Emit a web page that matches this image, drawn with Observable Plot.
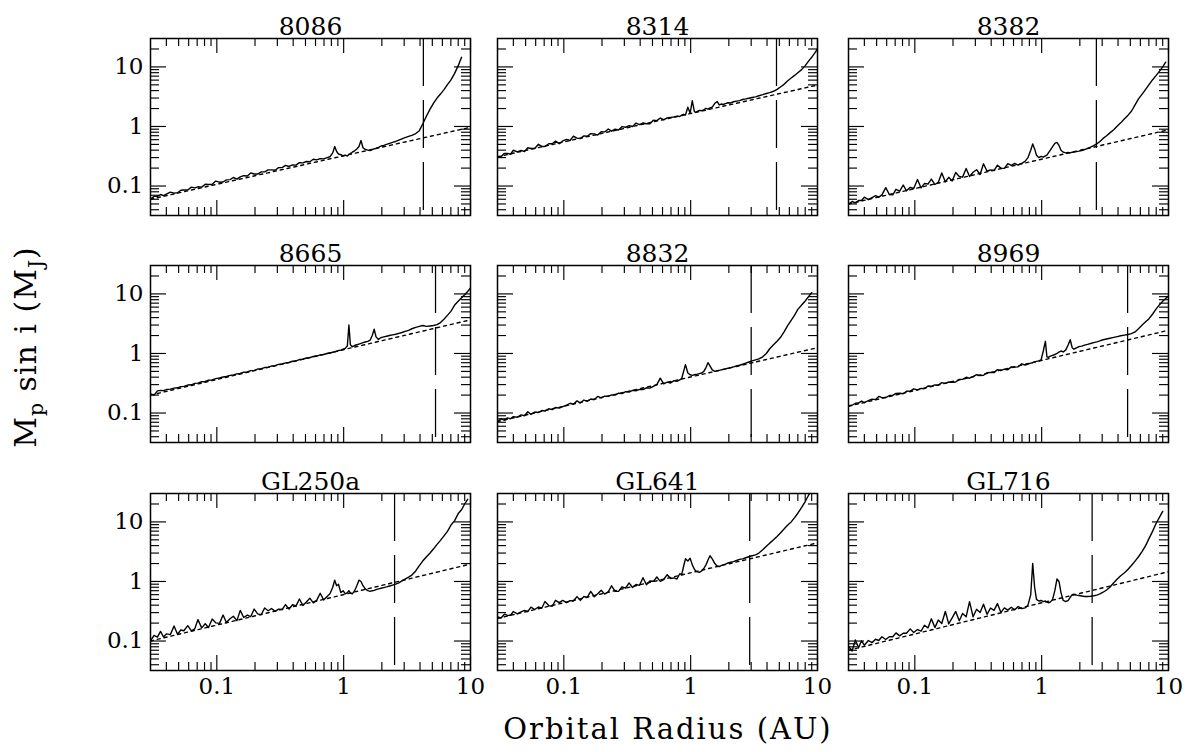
<!DOCTYPE html>
<html><head><meta charset="utf-8">
<script src="https://cdn.jsdelivr.net/npm/d3@7"></script>
<script src="https://cdn.jsdelivr.net/npm/@observablehq/plot@0.6"></script>
<style>
body{margin:0;background:#fff;}
#chart{position:relative;width:1190px;height:752px;overflow:hidden;font-family:"DejaVu Serif",serif;color:#000;}
.ttl{position:absolute;white-space:nowrap;color:#000;font-family:"DejaVu Serif",serif;}
.ttl sub{font-size:0.68em;}
</style></head><body><div id="chart"></div>
<script>
const names = ["8086","8314","8382","8665","8832","8969","GL250a","GL641","GL716"];

const radius = [0.030,0.032,0.034,0.036,0.038,0.040,0.043,0.046,0.049,0.052,
 0.055,0.059,0.063,0.067,0.071,0.076,0.081,0.086,0.092,0.098,
 0.105,0.112,0.119,0.127,0.135,0.144,0.153,0.163,0.174,0.185,
 0.197,0.210,0.224,0.238,0.254,0.270,0.288,0.307,0.327,0.348,
 0.371,0.395,0.421,0.448,0.477,0.508,0.541,0.576,0.613,0.653,
 0.695,0.74,0.78,0.82,0.85,0.88,0.91,0.95,0.99,1.03,
 1.07,1.10,1.13,1.17,1.22,1.27,1.32,1.37,1.42,1.48,
 1.55,1.62,1.68,1.74,1.80,1.88,1.97,2.07,2.18,2.30,
 2.43,2.57,2.72,2.88,3.05,3.25,3.45,3.70,3.95,4.20,
 4.50,4.80,5.10,5.45,5.80,6.20,6.60,7.00,7.50,8.00,
 8.50,9.00,9.50,10.0];

const m8086 = [0.060,0.067,0.067,0.072,0.069,0.073,0.079,0.076,0.077,0.085,
 0.086,0.086,0.096,0.093,0.097,0.096,0.107,0.106,0.107,0.121,
 0.116,0.117,0.127,0.128,0.139,0.131,0.142,0.149,0.147,0.166,
 0.159,0.159,0.173,0.173,0.187,0.187,0.184,0.204,0.204,0.222,
 0.213,0.226,0.224,0.247,0.245,0.258,0.256,0.282,0.275,0.289,
 0.286,0.300,0.310,0.360,0.460,0.380,0.345,0.335,0.322,0.330,
 0.318,0.340,0.350,0.370,0.390,0.420,0.460,0.580,0.440,0.410,
 0.400,0.395,0.410,0.420,0.430,0.445,0.470,0.480,0.500,0.520,
 0.540,0.560,0.590,0.620,0.650,0.680,0.710,0.760,0.850,1.10,
 1.50,1.95,2.45,3.00,3.50,4.20,5.10,6.00,7.80,10.5,
 14.5,null,null,null];

const m8314 = [0.310,0.310,0.354,0.353,0.342,0.399,0.374,0.397,0.380,0.439,
 0.426,0.428,0.502,0.462,0.461,0.513,0.513,0.567,0.514,0.571,
 0.606,0.582,0.689,0.637,0.626,0.695,0.686,0.759,0.750,0.718,
 0.819,0.810,0.907,0.834,0.900,0.873,0.996,0.970,1.029,1.000,
 1.139,1.078,1.145,1.112,1.111,1.271,1.254,1.388,1.291,1.393,
 1.420,1.44,1.49,1.47,1.55,1.60,1.56,2.10,1.68,2.70,
 1.78,1.72,1.80,1.86,1.84,1.90,2.02,1.96,2.05,2.12,
 2.45,2.62,2.30,2.38,2.34,2.42,2.50,2.48,2.60,2.66,
 2.72,2.84,2.90,2.98,3.06,3.14,3.28,3.42,3.58,3.70,
 3.90,4.20,4.60,5.10,5.80,6.50,7.20,8.00,9.00,10.5,
 12.5,14.5,17.0,20.0];

const m8382 = [0.050,0.055,0.052,0.057,0.057,0.065,0.059,0.064,0.069,0.065,
 0.071,0.094,0.072,0.071,0.088,0.082,0.104,0.083,0.095,0.091,
 0.129,0.093,0.110,0.108,0.131,0.106,0.115,0.166,0.118,0.140,
 0.121,0.169,0.145,0.141,0.197,0.145,0.170,0.188,0.156,0.236,
 0.177,0.187,0.182,0.224,0.200,0.198,0.237,0.223,0.239,0.225,
 0.240,0.260,0.300,0.400,0.510,0.420,0.330,0.300,0.315,0.305,
 0.320,0.330,0.360,0.400,0.460,0.520,0.540,0.480,0.400,0.370,
 0.360,0.365,0.360,0.370,0.372,0.378,0.385,0.395,0.410,0.430,
 0.450,0.475,0.510,0.560,0.630,0.700,0.780,0.880,1.02,1.15,
 1.35,1.55,1.80,2.30,2.90,3.50,4.20,5.00,6.10,7.20,
 8.50,10.0,12.0,null];

const m8665 = [0.210,0.200,0.235,0.240,0.238,0.248,0.252,0.262,0.265,0.278,
 0.280,0.295,0.298,0.315,0.318,0.335,0.338,0.355,0.360,0.378,
 0.390,0.402,0.410,0.428,0.435,0.455,0.462,0.485,0.490,0.515,
 0.520,0.548,0.555,0.580,0.590,0.615,0.625,0.655,0.665,0.695,
 0.705,0.740,0.750,0.790,0.800,0.840,0.850,0.890,0.905,0.945,
 0.960,1.00,1.02,1.05,1.07,1.09,1.12,1.14,1.18,1.22,
 1.35,3.00,1.40,1.30,1.36,1.40,1.44,1.48,1.52,1.56,
 1.60,1.68,2.00,2.55,1.90,1.72,1.85,1.90,1.95,2.00,
 2.05,2.10,2.18,2.25,2.35,2.45,2.60,2.75,2.85,2.95,
 2.85,2.90,2.95,3.05,3.30,3.80,4.40,5.10,6.50,7.50,
 8.60,9.70,11.0,12.6];

const m8832 = [0.072,0.080,0.076,0.083,0.080,0.087,0.085,0.093,0.090,0.105,
 0.095,0.104,0.102,0.110,0.108,0.118,0.114,0.124,0.121,0.128,
 0.135,0.146,0.140,0.160,0.147,0.165,0.158,0.172,0.168,0.190,
 0.180,0.192,0.190,0.202,0.200,0.215,0.212,0.228,0.225,0.240,
 0.236,0.250,0.248,0.265,0.262,0.280,0.300,0.385,0.310,0.330,
 0.320,0.350,0.340,0.360,0.380,0.500,0.650,0.470,0.440,0.430,
 0.440,0.445,0.450,0.460,0.470,0.500,0.580,0.700,0.620,0.530,
 0.500,0.510,0.520,0.530,0.540,0.550,0.565,0.580,0.595,0.615,
 0.635,0.660,0.690,0.720,0.750,0.780,0.810,0.880,1.00,1.20,
 1.40,1.60,1.85,2.30,2.90,3.60,4.40,5.50,6.50,7.60,
 9.00,10.5,null,null];

const m8969 = [0.133,0.135,0.146,0.147,0.159,0.149,0.162,0.171,0.168,0.190,
 0.181,0.182,0.197,0.198,0.213,0.215,0.211,0.232,0.233,0.255,
 0.244,0.259,0.257,0.284,0.281,0.296,0.293,0.324,0.315,0.332,
 0.329,0.332,0.368,0.368,0.399,0.384,0.408,0.442,0.425,0.430,
 0.475,0.481,0.477,0.536,0.517,0.544,0.534,0.595,0.590,0.597,
 0.671,0.640,0.665,0.690,0.700,0.720,0.735,0.750,0.780,1.10,
 1.60,0.880,0.860,0.900,0.930,0.960,1.00,1.05,1.10,1.06,
 1.15,1.40,1.70,1.25,1.18,1.24,1.30,1.33,1.38,1.42,
 1.47,1.52,1.57,1.63,1.70,1.75,1.80,1.86,1.92,1.98,
 2.03,2.08,2.15,2.30,2.60,3.00,3.40,3.80,4.60,5.60,
 6.60,7.50,8.40,9.20];

const mGL250a = [0.101,0.124,0.116,0.145,0.117,0.132,0.128,0.179,0.130,0.153,
 0.149,0.181,0.148,0.160,0.229,0.166,0.195,0.169,0.234,0.202,
 0.198,0.273,0.204,0.237,0.261,0.220,0.327,0.248,0.272,0.256,
 0.344,0.285,0.276,0.359,0.322,0.352,0.315,0.344,0.338,0.409,
 0.343,0.406,0.390,0.508,0.395,0.452,0.524,0.438,0.482,0.634,
 0.490,0.560,0.620,0.800,1.05,0.850,0.900,0.650,0.700,0.620,
 0.650,0.700,0.640,0.620,0.700,0.850,1.05,1.00,0.850,0.750,
 0.700,0.680,0.700,0.710,0.730,0.750,0.770,0.790,0.810,0.840,
 0.870,0.900,0.950,1.02,1.10,1.18,1.28,1.50,1.85,2.20,
 2.60,3.00,3.50,4.20,4.90,5.90,7.00,8.80,10.5,13.8,
 16.0,20.0,24.0,null];

const mGL641 = [0.253,0.244,0.282,0.270,0.271,0.313,0.285,0.308,0.327,0.311,
 0.371,0.338,0.373,0.356,0.460,0.394,0.384,0.482,0.443,0.480,
 0.440,0.476,0.471,0.557,0.481,0.559,0.542,0.682,0.554,0.623,
 0.710,0.613,0.668,0.847,0.684,0.682,0.814,0.774,0.947,0.791,
 0.889,0.862,1.156,0.881,1.020,1.006,1.188,1.005,1.078,1.300,
 1.120,1.15,1.10,1.35,1.30,1.80,2.40,2.20,2.45,1.90,
 1.60,1.50,1.45,1.42,1.50,1.65,1.90,2.30,2.70,2.40,
 2.00,1.80,1.78,1.85,1.90,1.95,2.05,2.10,2.15,2.25,
 2.35,2.40,2.50,2.60,2.70,2.80,3.00,3.40,3.90,4.40,
 5.00,5.70,6.50,7.60,8.80,10.0,11.8,14.0,17.5,22.0,
 28.0,35.0,null,null];

const mGL716 = [0.082,0.068,0.104,0.077,0.101,0.085,0.102,0.094,0.107,0.102,
 0.118,0.106,0.118,0.118,0.137,0.122,0.135,0.135,0.160,0.139,
 0.156,0.146,0.184,0.166,0.236,0.168,0.225,0.197,0.314,0.194,
 0.245,0.314,0.219,0.290,0.256,0.458,0.255,0.341,0.302,0.415,
 0.281,0.358,0.327,0.425,0.300,0.360,0.330,0.370,0.335,0.380,
 0.350,0.360,0.400,0.600,2.00,0.800,0.500,0.470,0.480,0.460,
 0.470,0.450,0.440,0.450,0.500,0.700,1.10,1.00,0.650,0.480,
 0.460,0.480,0.540,0.600,0.610,0.590,0.580,0.570,0.560,0.560,
 0.565,0.575,0.590,0.620,0.660,0.720,0.800,0.950,1.10,1.25,
 1.40,1.60,1.85,2.20,2.60,3.20,4.00,5.20,7.00,9.50,
 12.0,15.0,null,null];

// power-law fits (dashed): value at a = 0.03 AU and at a = 10 AU
const fitRange = [0.03, 10];
const fitStart = [0.060, 0.310, 0.050, 0.200, 0.072, 0.130, 0.100, 0.240, 0.070];
const fitEnd   = [0.97, 4.95, 0.88, 3.67, 1.25, 2.45, 1.96, 4.45, 1.46];
// vertical dashed line (AU)
const cutoff = [4.25, 4.75, 2.7, 5.3, 3.0, 4.76, 2.52, 2.92, 2.5];

const xMajor = [0.1, 1, 10];
const xLabels = ["0.1", "1", "10"];
const xMinor = [0.04,0.05,0.06,0.07,0.08,0.09,0.2,0.3,0.4,0.5,0.6,0.7,0.8,0.9,2,3,4,5,6,7,8,9];
const yMajor = [0.1, 1, 10];
const yLabels = ["0.1", "1", "10"];
const yMinor = [0.04,0.05,0.06,0.07,0.08,0.09,0.2,0.3,0.4,0.5,0.6,0.7,0.8,0.9,2,3,4,5,6,7,8,9,20];

const series = [m8086, m8314, m8382, m8665, m8832, m8969, mGL250a, mGL641, mGL716];

const colLeft = [150, 497, 848];
const rowTop = [38, 265, 493];
const FW = 320, FH = 177, ML = 64, MR = 22, MT = 42, MB = 42;
const chart = document.getElementById("chart");

names.forEach((name, i) => {
  const r = Math.floor(i / 3), c = i % 3;
  const pts = radius.map((x, k) => ({x, y: series[i][k]})).filter(d => d.y != null);
  const fit = fitRange.map((x, k) => ({x, y: k ? fitEnd[i] : fitStart[i]}));
  const tk = {stroke: "#000", strokeWidth: 1.15};
  const marks = [
    Plot.line(fit, {x: "x", y: "y", stroke: "#000", strokeWidth: 1.4, strokeDasharray: "3,4", clip: true}),
    Plot.line(pts, {x: "x", y: "y", stroke: "#000", strokeWidth: 1.4, clip: true}),
    Plot.ruleX([cutoff[i]], {x: d => d, stroke: "#000", strokeWidth: 1.25, strokeDasharray: "48,14"}),
    Plot.tickX(xMajor, {x: d => d, ...tk, insetTop: FH - 15}),
    Plot.tickX(xMajor, {x: d => d, ...tk, insetBottom: FH - 15}),
    Plot.tickX(xMinor, {x: d => d, ...tk, insetTop: FH - 8}),
    Plot.tickX(xMinor, {x: d => d, ...tk, insetBottom: FH - 8}),
    Plot.tickY(yMajor, {y: d => d, ...tk, insetRight: FW - 16}),
    Plot.tickY(yMajor, {y: d => d, ...tk, insetLeft: FW - 16}),
    Plot.tickY(yMinor, {y: d => d, ...tk, insetRight: FW - 9}),
    Plot.tickY(yMinor, {y: d => d, ...tk, insetLeft: FW - 9}),
    Plot.frame({stroke: "#000", strokeWidth: 1.5}),
    Plot.text([name], {frameAnchor: "top", dy: -4, lineAnchor: "bottom", fontSize: 25, fill: "#000"})
  ];
  if (r === 2) marks.push(Plot.axisX(xMajor, {anchor: "bottom", tickSize: 0, tickPadding: 7, fontSize: 23, label: null,
    tickFormat: d => xLabels[xMajor.indexOf(d)]}));
  if (c === 0) marks.push(Plot.axisY(yMajor, {anchor: "left", tickSize: 0, tickPadding: 7, fontSize: 23, label: null,
    tickFormat: d => yLabels[yMajor.indexOf(d)]}));
  const svg = Plot.plot({
    width: FW + ML + MR, height: FH + MT + MB,
    marginLeft: ML, marginRight: MR, marginTop: MT, marginBottom: MB,
    x: {type: "log", domain: [0.03, 10], axis: null},
    y: {type: "log", domain: [0.032, 30], axis: null},
    style: {fontFamily: "DejaVu Serif, serif", fontSize: "23px", color: "#000", background: "transparent", overflow: "visible"},
    marks
  });
  svg.style.position = "absolute";
  svg.style.left = (colLeft[c] - ML) + "px";
  svg.style.top = (rowTop[r] - MT) + "px";
  chart.appendChild(svg);
});

const xt = document.createElement("div");
xt.className = "ttl";
xt.style.cssText += "left:668px;top:712px;transform:translateX(-50%);font-size:29px;letter-spacing:2px;";
xt.textContent = "Orbital Radius (AU)";
chart.appendChild(xt);

const yt = document.createElement("div");
yt.className = "ttl";
yt.style.cssText += "left:28px;top:347px;transform:translate(-50%,-50%) rotate(-90deg);font-size:30px;letter-spacing:1px;";
yt.innerHTML = "M<sub>p</sub> sin i (M<sub>J</sub>)";
chart.appendChild(yt);
</script></body></html>
